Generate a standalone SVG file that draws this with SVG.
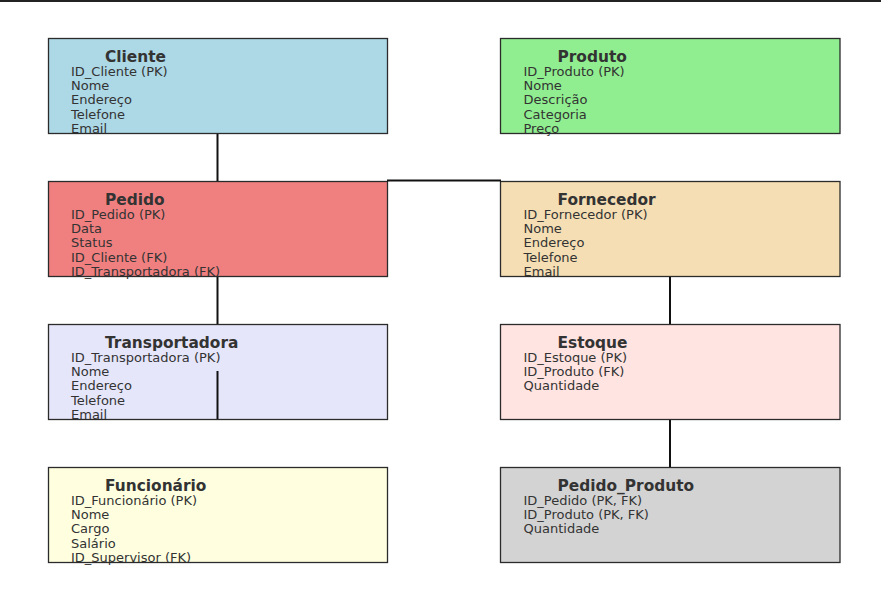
<svg xmlns="http://www.w3.org/2000/svg" width="881" height="595" viewBox="0 0 881 595">
<style>
.box{stroke:none}
.bd{fill:none;stroke:#2b2b2b;stroke-width:1.3}
.t{font-family:"DejaVu Sans",sans-serif;font-weight:bold;font-size:15.4px;fill:#333}
.a{font-family:"DejaVu Sans",sans-serif;font-size:13px;fill:#333}
.c{stroke:#111;stroke-width:2;fill:none}
</style>
<rect width="881" height="595" fill="#fff"/>
<rect x="0" y="0" width="881" height="2" fill="#222"/>
<g id="Cliente">
<rect class="box" x="48.5" y="38.5" width="339" height="95" fill="#ADD8E6"/>
<text class="t" x="105" y="61.5">Cliente</text>
<text class="a" x="71" y="76">ID_Cliente (PK)</text>
<text class="a" x="71" y="90.2">Nome</text>
<text class="a" x="71" y="104.4">Endereço</text>
<text class="a" x="71" y="118.6">Telefone</text>
<text class="a" x="71" y="132.8">Email</text>
<rect class="bd" x="48.5" y="38.5" width="339" height="95"/>
</g>
<g id="Produto">
<rect class="box" x="500.5" y="38.5" width="339.5" height="95" fill="#90EE90"/>
<text class="t" x="557.5" y="61.5">Produto</text>
<text class="a" x="523.5" y="76">ID_Produto (PK)</text>
<text class="a" x="523.5" y="90.2">Nome</text>
<text class="a" x="523.5" y="104.4">Descrição</text>
<text class="a" x="523.5" y="118.6">Categoria</text>
<text class="a" x="523.5" y="132.8">Preço</text>
<rect class="bd" x="500.5" y="38.5" width="339.5" height="95"/>
</g>
<g id="Pedido">
<rect class="box" x="48.5" y="181.5" width="339" height="95" fill="#F08080"/>
<text class="t" x="105" y="204.5">Pedido</text>
<text class="a" x="71" y="219">ID_Pedido (PK)</text>
<text class="a" x="71" y="233.2">Data</text>
<text class="a" x="71" y="247.4">Status</text>
<text class="a" x="71" y="261.6">ID_Cliente (FK)</text>
<text class="a" x="71" y="275.8">ID_Transportadora (FK)</text>
<rect class="bd" x="48.5" y="181.5" width="339" height="95"/>
</g>
<g id="Fornecedor">
<rect class="box" x="500.5" y="181.5" width="339.5" height="95" fill="#F5DEB3"/>
<text class="t" x="557.5" y="204.5">Fornecedor</text>
<text class="a" x="523.5" y="219">ID_Fornecedor (PK)</text>
<text class="a" x="523.5" y="233.2">Nome</text>
<text class="a" x="523.5" y="247.4">Endereço</text>
<text class="a" x="523.5" y="261.6">Telefone</text>
<text class="a" x="523.5" y="275.8">Email</text>
<rect class="bd" x="500.5" y="181.5" width="339.5" height="95"/>
</g>
<g id="Transportadora">
<rect class="box" x="48.5" y="324.5" width="339" height="95" fill="#E6E6FA"/>
<text class="t" x="105" y="347.5">Transportadora</text>
<text class="a" x="71" y="362">ID_Transportadora (PK)</text>
<text class="a" x="71" y="376.2">Nome</text>
<text class="a" x="71" y="390.4">Endereço</text>
<text class="a" x="71" y="404.6">Telefone</text>
<text class="a" x="71" y="418.8">Email</text>
<rect class="bd" x="48.5" y="324.5" width="339" height="95"/>
</g>
<g id="Estoque">
<rect class="box" x="500.5" y="324.5" width="339.5" height="95" fill="#FFE4E1"/>
<text class="t" x="557.5" y="347.5">Estoque</text>
<text class="a" x="523.5" y="362">ID_Estoque (PK)</text>
<text class="a" x="523.5" y="376.2">ID_Produto (FK)</text>
<text class="a" x="523.5" y="390.4">Quantidade</text>
<rect class="bd" x="500.5" y="324.5" width="339.5" height="95"/>
</g>
<g id="Funcionario">
<rect class="box" x="48.5" y="467.5" width="339" height="95" fill="#FFFFE0"/>
<text class="t" x="105" y="490.5">Funcionário</text>
<text class="a" x="71" y="505">ID_Funcionário (PK)</text>
<text class="a" x="71" y="519.2">Nome</text>
<text class="a" x="71" y="533.4">Cargo</text>
<text class="a" x="71" y="547.6">Salário</text>
<text class="a" x="71" y="561.8">ID_Supervisor (FK)</text>
<rect class="bd" x="48.5" y="467.5" width="339" height="95"/>
</g>
<g id="Pedido_Produto">
<rect class="box" x="500.5" y="467.5" width="339.5" height="95" fill="#D3D3D3"/>
<text class="t" x="557.5" y="490.5">Pedido_Produto</text>
<text class="a" x="523.5" y="505">ID_Pedido (PK, FK)</text>
<text class="a" x="523.5" y="519.2">ID_Produto (PK, FK)</text>
<text class="a" x="523.5" y="533.4">Quantidade</text>
<rect class="bd" x="500.5" y="467.5" width="339.5" height="95"/>
</g>
<g id="connectors">
<line class="c" x1="217.5" y1="134" x2="217.5" y2="181"/>
<line class="c" x1="217.5" y1="277" x2="217.5" y2="324"/>
<line class="c" x1="217.5" y1="371" x2="217.5" y2="419"/>
<line class="c" x1="387" y1="180.5" x2="501" y2="180.5"/>
<line class="c" x1="670" y1="277" x2="670" y2="324"/>
<line class="c" x1="670" y1="420" x2="670" y2="467"/>
</g>
</svg>
